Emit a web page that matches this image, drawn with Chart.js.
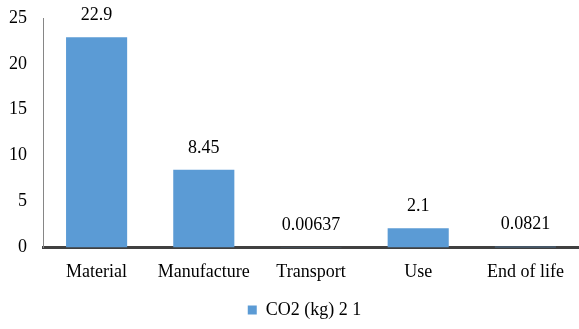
<!DOCTYPE html>
<html>
<head>
<meta charset="utf-8">
<script src="https://cdn.jsdelivr.net/npm/chart.js@4/dist/chart.umd.min.js"></script>
<style>
  html, body { margin: 0; padding: 0; background: #fff; }
  #wrap { width: 579px; height: 329px; }
  .fontwarm { font-family: 'Liberation Serif'; position: absolute; left: -999px; top: 0; }
</style>
</head>
<body>
<span class="fontwarm">0123456789 Material</span>
<div id="wrap"><canvas id="c" width="579" height="329"></canvas></div>
<script>
// Life-cycle stages and their CO2 emissions
const stages = ['Material', 'Manufacture', 'Transport', 'Use', 'End of life'];
const co2Values = [22.9, 8.45, 0.00637, 2.1, 0.0821];
const co2Labels = ['22.9', '8.45', '0.00637', '2.1', '0.0821'];
const yTicks = [0, 5, 10, 15, 20, 25];
const seriesName = 'CO2 (kg) 2 1';

const FONT = "'Liberation Serif', serif";
const SIZE = 18;
const BAR = '#5b9bd5';

// Writes each bar's value above it
const valueLabels = {
  id: 'valueLabels',
  afterDatasetsDraw(chart) {
    const ctx = chart.ctx;
    const meta = chart.getDatasetMeta(0);
    ctx.save();
    ctx.font = SIZE + 'px ' + FONT;
    ctx.fillStyle = '#000';
    ctx.textAlign = 'center';
    ctx.textBaseline = 'middle';
    meta.data.forEach((bar, i) => {
      ctx.fillText(co2Labels[i], bar.x, bar.y - 22);
    });
    ctx.restore();
  }
};

// Nudges the legend a little to the right of centre
const legendShift = {
  id: 'legendShift',
  afterLayout(chart) {
    if (chart.legend) {
      chart.legend.left += 15;
      chart.legend.right += 15;
    }
  }
};

function draw() {
  new Chart(document.getElementById('c'), {
    type: 'bar',
    data: {
      labels: stages,
      datasets: [{
        label: seriesName,
        data: co2Values,
        backgroundColor: BAR,
        borderWidth: 0,
        categoryPercentage: 1,
        barPercentage: 0.57
      }]
    },
    options: {
      responsive: false,
      animation: false,
      layout: { padding: { top: 18, right: 0, bottom: 0, left: 0 } },
      plugins: {
        legend: {
          position: 'bottom',
          labels: {
            font: { family: FONT, size: SIZE },
            color: '#000',
            boxWidth: 9,
            boxHeight: 9,
            padding: 9
          }
        },
        tooltip: { enabled: false }
      },
      scales: {
        x: {
          afterFit(axis) { axis.height += 3; },
          grid: { display: false },
          border: { display: true, color: '#404040', width: 3 },
          ticks: { font: { family: FONT, size: SIZE }, color: '#000', padding: 6, maxRotation: 0 }
        },
        y: {
          min: 0,
          max: 25,
          afterBuildTicks(axis) { axis.ticks = yTicks.map(v => ({ value: v })); },
          afterFit(axis) { axis.width = 43; axis.paddingTop = 0; axis.paddingBottom = 0; },
          grid: { display: false },
          border: { display: true, color: '#868686', width: 1 },
          ticks: { font: { family: FONT, size: SIZE }, color: '#000', padding: 8 }
        }
      }
    },
    plugins: [valueLabels, legendShift]
  });
}

if (document.fonts && document.fonts.load) {
  document.fonts.load(SIZE + "px 'Liberation Serif'").then(draw, draw);
} else {
  draw();
}
</script>
</body>
</html>
